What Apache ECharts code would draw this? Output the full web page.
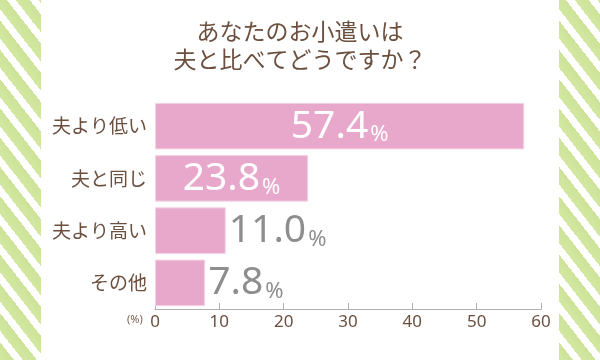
<!DOCTYPE html>
<html>
<head>
<meta charset="utf-8">
<script src="https://cdn.jsdelivr.net/npm/echarts@6/dist/echarts.min.js"></script>
<style>
  html, body { margin: 0; padding: 0; background: #fff; }
  #wrap { position: relative; width: 600px; height: 360px; overflow: hidden; }
  .stripe { position: absolute; top: 0; width: 41px; height: 360px;
    background: repeating-linear-gradient(52deg, #d3e7a1 0px, #cde398 11px, #ffffff 11px, #ffffff 18px); }
  #left { left: 0; }
  #right { left: 559px; }
  #chart { position: absolute; left: 0; top: 0; width: 600px; height: 360px; }
</style>
</head>
<body>
<div id="wrap">
  <div class="stripe" id="left"></div>
  <div class="stripe" id="right"></div>
  <div id="chart"></div>
</div>
<script>
const titleLines = ['あなたのお小遣いは', '夫と比べてどうですか？'];
const categories = ['夫より低い', '夫と同じ', '夫より高い', 'その他'];
const values = [57.4, 23.8, 11.0, 7.8];
const xTicks = [0, 10, 20, 30, 40, 50, 60];
const unitLabel = '(%)';

const brown = '#6b4f3f';
const chart = echarts.init(document.getElementById('chart'), null, { renderer: 'canvas' });

const seriesData = values.map(function (v) {
  const inside = v > 20;
  return {
    value: v,
    label: {
      show: true,
      position: inside ? 'inside' : 'right',
      distance: 3,
      formatter: function (p) { return '{n|' + p.value.toFixed(1) + '}{p|%}'; },
      rich: {
        n: { fontSize: 39, fontFamily: 'Noto Sans', color: inside ? '#ffffff' : '#8e8e8e', lineHeight: 40, verticalAlign: 'bottom' },
        p: { fontSize: 22, fontFamily: 'Noto Sans', color: inside ? '#ffffff' : '#8e8e8e', lineHeight: 32, verticalAlign: 'bottom', padding: [0, 0, 0, 2] }
      }
    }
  };
});

chart.setOption({
  animation: false,
  backgroundColor: 'transparent',
  title: {
    text: titleLines.join('\n'),
    left: 'center',
    top: 12,
    textStyle: { fontFamily: 'Noto Sans CJK JP', fontSize: 23, fontWeight: 'normal', color: brown, lineHeight: 28 }
  },
  grid: { left: 155, right: 59, top: 100, bottom: 51 },
  xAxis: {
    type: 'value',
    min: xTicks[0],
    max: xTicks[xTicks.length - 1],
    interval: xTicks[1] - xTicks[0],
    splitLine: { show: false },
    axisLine: { show: true, lineStyle: { color: '#b0b0b0', width: 1 } },
    axisTick: { show: true, inside: true, length: 6, lineStyle: { color: '#b0b0b0' } },
    axisLabel: { color: brown, fontSize: 17, fontFamily: 'Noto Sans', margin: 5 }
  },
  yAxis: {
    type: 'category',
    data: categories,
    inverse: true,
    axisLine: { show: false },
    axisTick: { show: false },
    axisLabel: { color: brown, fontSize: 19, fontFamily: 'Noto Sans CJK JP', margin: 8 }
  },
  graphic: [{
    type: 'text',
    left: 127,
    top: 314,
    style: { text: unitLabel, fontSize: 11, fill: '#7a6050', fontFamily: 'Noto Sans' }
  }],
  series: [{
    type: 'bar',
    data: seriesData,
    barCategoryGap: '11%',
    itemStyle: { color: '#e8a8cb', borderColor: '#f4d3e4', borderWidth: 1 }
  }]
});
</script>
</body>
</html>
